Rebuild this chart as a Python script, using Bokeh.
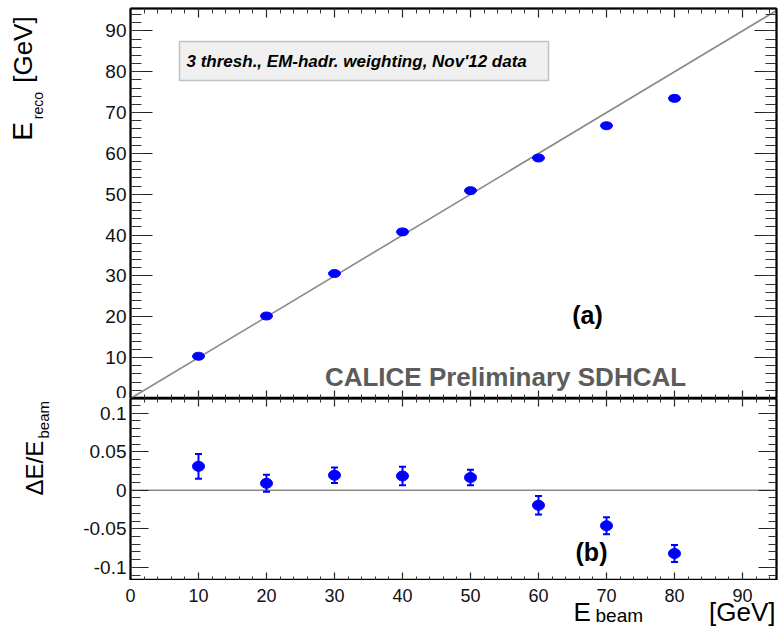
import math
from bokeh.plotting import figure
from bokeh.layouts import column, row
from bokeh.models import (Range1d, LinearAxis, FixedTicker, Label, Slope, Span,
                          Whisker, TeeHead, ColumnDataSource, BoxAnnotation,
                          CustomJSTickFormatter)
from bokeh.embed import file_html
from bokeh.resources import INLINE

# ---------------- data ----------------
e_beam = [10, 20, 30, 40, 50, 60, 70, 80]
e_reco = [10.35, 20.2, 30.6, 40.8, 50.9, 58.9, 66.8, 73.5]
rel_dev = [0.031, 0.009, 0.0195, 0.0185, 0.0165, -0.0195, -0.046, -0.082]
rel_err = [0.016, 0.011, 0.010, 0.012, 0.010, 0.012, 0.011, 0.011]

x_ticks = [0, 10, 20, 30, 40, 50, 60, 70, 80, 90]
y1_ticks = [0, 10, 20, 30, 40, 50, 60, 70, 80, 90]
y2_ticks = [-0.1, -0.05, 0, 0.05, 0.1]

info_text = "3 thresh., EM-hadr. weighting, Nov'12 data"
calice_text = "CALICE Preliminary SDHCAL"

# ---------------- layout constants ----------------
W, H = 783, 626
AUXW = 60                      # left strip holding the y titles
LEFT, RIGHT = 130, 7           # frame left / right margin (page)
TOP1, FH1 = 8, 390             # top panel frame
FH2 = 182                      # bottom panel frame
XLAB = 21                      # band for x tick labels
XT_TOP = TOP1 + FH1 + FH2 + XLAB   # page row where x-title band starts
XT_H = H - XT_TOP
XMIN, XMAX = 0, 95
Y1MIN, Y1MAX = 0, 95.5
Y2MIN, Y2MAX = -0.117, 0.119

FONT = "Liberation Sans"
TICK_FS = "19px"
XTICK_FS = "18px"
BLUE = "#0000ff"
GREY = "#888888"
BASE_K = 0.36      # anchor-to-baseline offset of "alphabetic" labels (em)

xs = (W - LEFT - RIGHT) / (XMAX - XMIN)
ys1 = FH1 / (Y1MAX - Y1MIN)
ys2 = FH2 / (Y2MAX - Y2MIN)
y0_1 = TOP1 + FH1
y2_zero = TOP1 + FH1 + Y2MAX * ys2


def tx(px):
    return XMIN + (px - LEFT) / xs


def ty(py):
    return Y1MIN + (y0_1 - py) / ys1


def by(py):
    return (y2_zero - py) / ys2


x_range = Range1d(XMIN, XMAX)

x_minor = [i * 2 for i in range(0, 48)]
y1_minor = [i * 2 for i in range(0, 48)]
y2_minor = [i / 100 for i in range(-11, 12)]


def style_axis(ax, ticker, major_in, minor_in, labels):
    ax.ticker = ticker
    ax.major_tick_in = major_in
    ax.major_tick_out = 0
    ax.minor_tick_in = minor_in
    ax.minor_tick_out = 0
    ax.axis_line_color = "black"
    ax.axis_line_width = 2
    ax.major_tick_line_color = "#222222"
    ax.major_tick_line_width = 1.2
    ax.minor_tick_line_color = "#333333"
    ax.minor_tick_line_width = 1
    ax.axis_label = None
    ax.axis_label_standoff = 0
    if labels:
        ax.major_label_text_font = FONT
        ax.major_label_text_font_size = TICK_FS
        ax.major_label_text_color = "#111111"
        ax.major_label_standoff = 4
    else:
        ax.major_label_text_color = None
        ax.major_label_standoff = 0


def plain(f):
    f.grid.visible = False
    f.outline_line_color = None
    f.background_fill_color = "white"
    f.border_fill_color = "white"
    return f


def aux_fig(w, h):
    f = figure(width=w, height=h, x_range=Range1d(0, w),
               y_range=Range1d(h, 0), output_backend="svg",
               toolbar_location=None, x_axis_location=None,
               y_axis_location=None, min_border=0, title=None)
    return plain(f)


def txt(fig, x, y, text, size, align="left", angle=0.0, style="normal",
        color="black", baseline="alphabetic"):
    fig.add_layout(Label(x=x, y=y, text=text, text_font=FONT,
                         text_font_size=f"{size}px", text_font_style=style,
                         text_color=color, text_align=align,
                         text_baseline=baseline, angle=angle))


rot = math.pi / 2

# ---------------- top panel ----------------
p1 = figure(width=W - AUXW, height=TOP1 + FH1, x_range=x_range,
            y_range=Range1d(Y1MIN, Y1MAX), output_backend="svg",
            toolbar_location=None, min_border_left=LEFT - AUXW,
            min_border_right=RIGHT, min_border_top=TOP1, min_border_bottom=0)
plain(p1)
p1.outline_line_color = "black"
p1.outline_line_width = 1.5

style_axis(p1.xaxis[0], FixedTicker(ticks=x_ticks, minor_ticks=x_minor), 8, 4, False)
style_axis(p1.yaxis[0], FixedTicker(ticks=y1_ticks, minor_ticks=y1_minor), 22, 11, True)
ax_r1 = LinearAxis()
style_axis(ax_r1, FixedTicker(ticks=y1_ticks, minor_ticks=y1_minor), 22, 11, False)
p1.add_layout(ax_r1, "right")
ax_t1 = LinearAxis()
style_axis(ax_t1, FixedTicker(ticks=x_ticks, minor_ticks=x_minor), 9, 5, False)
p1.add_layout(ax_t1, "above")

p1.add_layout(Slope(gradient=1, y_intercept=0, line_color=GREY,
                    line_width=1.6, level="underlay"))

src1 = ColumnDataSource(dict(x=e_beam, y=e_reco))
p1.ellipse(x="x", y="y", width=12, height=8, width_units="screen",
           height_units="screen", source=src1, fill_color=BLUE,
           line_color=BLUE)

p1.add_layout(BoxAnnotation(left=tx(179), right=tx(548), top=ty(41),
                            bottom=ty(80), fill_color="#f0f0f0", fill_alpha=1,
                            line_color="#4a4a4a", line_width=1.5))
txt(p1, tx(186), ty(61), info_text, 17, style="bold italic",
    baseline="middle")
txt(p1, tx(587), ty(314), "(a)", 25, align="center", style="bold",
    baseline="middle")
txt(p1, tx(505), ty(376), calice_text, 26, align="center", style="bold",
    color="#5c5c5c", baseline="middle")

# ---------------- bottom panel ----------------
p2 = figure(width=W - AUXW, height=FH2, x_range=x_range,
            y_range=Range1d(Y2MIN, Y2MAX), output_backend="svg",
            toolbar_location=None, min_border_left=LEFT - AUXW,
            min_border_right=RIGHT, min_border_top=0, min_border_bottom=0)
plain(p2)
p2.outline_line_color = "black"
p2.outline_line_width = 1.5

style_axis(p2.xaxis[0], FixedTicker(ticks=x_ticks, minor_ticks=x_minor), 8, 4, False)
style_axis(p2.yaxis[0], FixedTicker(ticks=y2_ticks, minor_ticks=y2_minor), 18, 10, True)
p2.yaxis[0].formatter = CustomJSTickFormatter(
    code="return (Math.round(tick*100)/100).toString();")
ax_r2 = LinearAxis()
style_axis(ax_r2, FixedTicker(ticks=y2_ticks, minor_ticks=y2_minor), 18, 8, False)
p2.add_layout(ax_r2, "right")
ax_t2 = LinearAxis()
style_axis(ax_t2, FixedTicker(ticks=x_ticks, minor_ticks=x_minor), 8, 4, False)
p2.add_layout(ax_t2, "above")

p2.add_layout(Span(location=0, dimension="width", line_color=GREY,
                   line_width=1.6, level="underlay"))

src2 = ColumnDataSource(dict(
    x=e_beam, y=rel_dev,
    upper=[d + e for d, e in zip(rel_dev, rel_err)],
    lower=[d - e for d, e in zip(rel_dev, rel_err)]))
p2.add_layout(Whisker(source=src2, base="x", upper="upper", lower="lower",
                      dimension="height", line_color=BLUE, line_width=2,
                      upper_head=TeeHead(size=7, line_color=BLUE, line_width=2),
                      lower_head=TeeHead(size=7, line_color=BLUE, line_width=2)))
p2.ellipse(x="x", y="y", width=12, height=10, width_units="screen",
           height_units="screen", source=src2, fill_color=BLUE,
           line_color=BLUE)

txt(p2, tx(591), by(551), "(b)", 25, align="center", style="bold",
    baseline="middle")

# ---------------- x tick labels + x title band ----------------
p3 = figure(width=W, height=XLAB + XT_H, x_range=x_range,
            y_range=Range1d(XT_H, 0), output_backend="svg",
            toolbar_location=None, x_axis_location="above",
            y_axis_location=None, min_border_left=LEFT,
            min_border_right=RIGHT, min_border_top=XLAB,
            min_border_bottom=0, title=None)
plain(p3)
ax3 = p3.xaxis[0]
ax3.ticker = FixedTicker(ticks=x_ticks)
ax3.major_tick_in = 0
ax3.major_tick_out = 0
ax3.minor_tick_in = 0
ax3.minor_tick_out = 0
ax3.axis_line_color = None
ax3.major_tick_line_color = None
ax3.minor_tick_line_color = None
ax3.major_label_text_font = FONT
ax3.major_label_text_font_size = XTICK_FS
ax3.major_label_text_color = "#111111"
ax3.major_label_standoff = 0
ax3.axis_label = None

# x title: E_beam [GeV]  (baseline rows in page pixels)
txt(p3, tx(573), 621 - BASE_K * 26 - XT_TOP, "E", 26)
txt(p3, tx(595), 622 - BASE_K * 19 - XT_TOP, "beam", 19)
txt(p3, tx(775), 621 - BASE_K * 26 - XT_TOP, "[GeV]", 26, align="right")

# ---------------- y title strips (rotated, baseline columns) ----------------
a1 = aux_fig(AUXW, TOP1 + FH1)
txt(a1, 32 - BASE_K * 28, 135, "E", 28, angle=rot)
txt(a1, 43 - BASE_K * 14, 113, "reco", 14, angle=rot)
txt(a1, 32 - BASE_K * 26, 8, "[GeV]", 26, align="right", angle=rot)

a2 = aux_fig(AUXW, FH2)
off2 = TOP1 + FH1
txt(a2, 43 - BASE_K * 24, 495 - off2, "ΔE/E", 24, angle=rot)
txt(a2, 48 - BASE_K * 15, 438 - off2, "beam", 15, angle=rot)

layout = column(row(a1, p1, spacing=0), row(a2, p2, spacing=0), p3,
                spacing=0)
open("out.html", "w").write(file_html(layout, INLINE))
